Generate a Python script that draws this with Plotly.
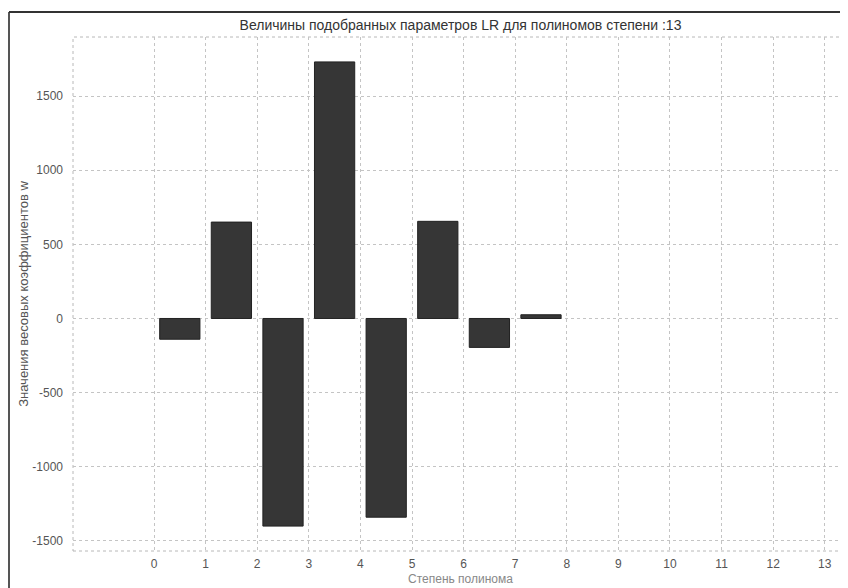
import plotly.graph_objects as go

# Data
degrees = list(range(8))
weights = [-140, 650, -1400, 1730, -1340, 655, -195, 25]
x_ticks = list(range(14))
y_ticks = [-1500, -1000, -500, 0, 500, 1000, 1500]

title_text = "Величины подобранных параметров LR для полиномов степени :13"
x_title = "Степень полинома"
y_title = "Значения весовых коэффициентов w"

bar_x = [d + 0.5 for d in degrees]

L, T, B, R = 65, 29, 45, 8
W, H = 848, 588
PW, PH = W - L - R, H - T - B

fig = go.Figure()
fig.add_trace(go.Bar(
    x=bar_x, y=weights, width=0.78,
    marker=dict(color="#363636", line=dict(color="#222222", width=1)),
    showlegend=False,
))

grid = dict(showgrid=True, gridcolor="#c4c4c4", gridwidth=1, griddash="dot",
            zeroline=False, showline=False, ticks="",
            tickfont=dict(family="Liberation Sans, Arial", size=12, color="#555555"))

fig.update_layout(
    width=W, height=H,
    paper_bgcolor="white", plot_bgcolor="white",
    margin=dict(l=L, r=R, t=T, b=B, autoexpand=False),
    font=dict(family="Liberation Sans, Arial", color="#444444"),
    title=dict(text=title_text, x=0.5, xref="paper", xanchor="center",
               y=1 - 17 / H, yanchor="middle",
               font=dict(size=14, color="#333333")),
    xaxis=dict(range=[-1.57, 13.45], tickmode="array", tickvals=x_ticks,
               ticktext=[str(t) for t in x_ticks], ticklabelstandoff=4,
               title=dict(text=x_title, standoff=4,
                          font=dict(size=12, color="#888888")),
               **grid),
    yaxis=dict(range=[-1568, 1898], tickmode="array", tickvals=y_ticks,
               ticktext=[str(t) for t in y_ticks], ticklabelstandoff=9,
               title=dict(text=y_title, standoff=0,
                          font=dict(size=13, color="#555555")),
               **grid),
    shapes=[
        dict(type="rect", xref="paper", yref="paper", x0=0, x1=1.2, y0=0, y1=1,
             line=dict(color="#b8b8b8", width=1, dash="dot"), layer="below"),
        dict(type="line", xref="paper", yref="paper", x0=-(L - 1) / PW, x1=-(L - 1) / PW,
             y0=-B / PH, y1=(PH + T - 4) / PH,
             line=dict(color="#555555", width=2)),
        dict(type="line", xref="paper", yref="paper", x0=-(L - 1) / PW, x1=(PW + R) / PW,
             y0=(PH + T - 4) / PH, y1=(PH + T - 4) / PH,
             line=dict(color="#333333", width=2)),
    ],
)

fig.write_html("out.html")
